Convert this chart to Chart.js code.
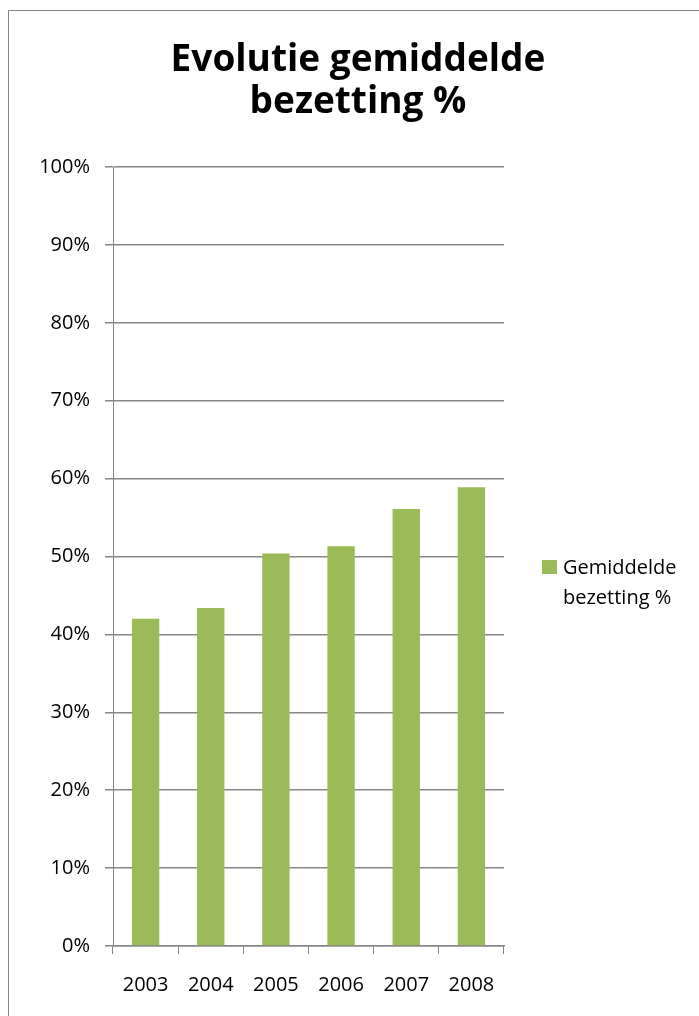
<!DOCTYPE html>
<html>
<head>
<meta charset="utf-8">
<title>Evolutie gemiddelde bezetting %</title>
<script src="https://cdn.jsdelivr.net/npm/chart.js@4/dist/chart.umd.min.js"></script>
<style>
  html, body { margin: 0; padding: 0; background: #fff; }
  #wrap { width: 699px; height: 1016px; position: relative; }
</style>
</head>
<body>
<div id="wrap"><canvas id="bezettingChart"></canvas></div>
<script>
// Data
const years = ['2003', '2004', '2005', '2006', '2007', '2008'];
const bezetting = [42.0, 43.4, 50.4, 51.3, 56.1, 58.9];
const titleLines = ['Evolutie gemiddelde', 'bezetting %'];
const legendLines = ['Gemiddelde', 'bezetting %'];

const barColor = '#9BBB59';
const lineColor = '#868686';
const labelFont = '"Open Sans", "Liberation Sans", sans-serif';

// Draws the outer frame, the two-line title and the two-line legend entry
const decorations = {
  id: 'decorations',
  beforeDraw(chart) {
    const ctx = chart.ctx;
    ctx.save();
    ctx.fillStyle = '#fff';
    ctx.fillRect(0, 0, chart.width, chart.height);
    ctx.strokeStyle = lineColor;
    ctx.lineWidth = 1;
    ctx.strokeRect(8.5, 10.5, chart.width + 10, chart.height + 10);
    ctx.restore();
  },
  afterDraw(chart) {
    const ctx = chart.ctx;
    ctx.save();
    // title
    ctx.fillStyle = '#000';
    ctx.font = 'bold 37px ' + labelFont;
    ctx.textAlign = 'center';
    ctx.textBaseline = 'alphabetic';
    titleLines.forEach((line, i) => ctx.fillText(line, 358, 71 + i * 42));

    // legend
    const ds = chart.data.datasets[0];
    ctx.fillStyle = ds.backgroundColor;
    ctx.fillRect(542, 560, 15, 14);
    ctx.fillStyle = '#000';
    ctx.font = '20px ' + labelFont;
    ctx.textAlign = 'left';
    legendLines.forEach((line, i) => ctx.fillText(line, 563, 574 + i * 30));
    ctx.restore();
  }
};

const ctx = document.getElementById('bezettingChart').getContext('2d');
new Chart(ctx, {
  type: 'bar',
  data: {
    labels: years,
    datasets: [{
      label: legendLines.join(' '),
      data: bezetting,
      backgroundColor: barColor,
      categoryPercentage: 1.0,
      barPercentage: 0.42
    }]
  },
  options: {
    responsive: true,
    maintainAspectRatio: false,
    animation: false,
    layout: { padding: { left: 0, top: 167, right: 195, bottom: 0 } },
    plugins: {
      legend: { display: false },
      title: { display: false },
      tooltip: { enabled: false }
    },
    scales: {
      x: {
        offset: true,
        afterFit(scale) { scale.height = 70; },
        grid: {
          offset: true,
          drawOnChartArea: false,
          drawTicks: true,
          tickLength: 8,
          color: lineColor,
          lineWidth: 1
        },
        border: { color: lineColor, width: 1.5 },
        ticks: {
          color: '#000',
          padding: 19,
          font: { family: labelFont, size: 20 }
        }
      },
      y: {
        min: 0,
        max: 100,
        afterFit(scale) { scale.width = 113; },
        grid: {
          color: lineColor,
          lineWidth: 1.5,
          tickLength: 8
        },
        border: { color: lineColor, width: 1 },
        ticks: {
          stepSize: 10,
          color: '#000',
          padding: 15,
          font: { family: labelFont, size: 20 },
          callback: v => v + '%'
        }
      }
    }
  },
  plugins: [decorations]
});
</script>
</body>
</html>
